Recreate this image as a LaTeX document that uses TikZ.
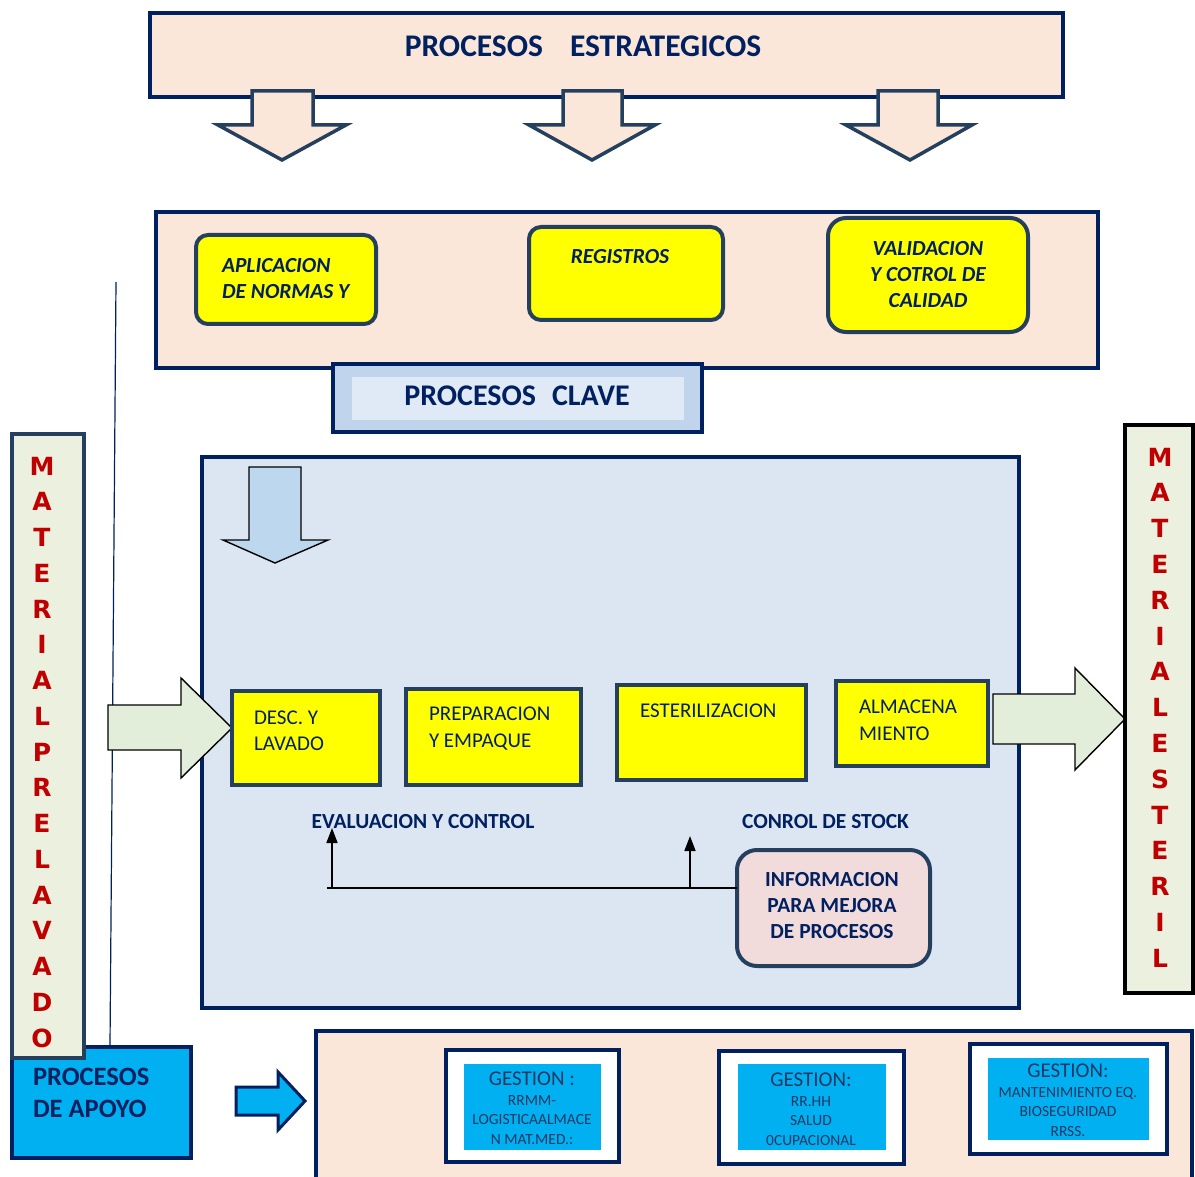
\documentclass[tikz,border=0pt]{standalone}
\usepackage{fontspec}
\setmainfont{Carlito}
\newfontfamily\vfont{DejaVu Sans}
\usetikzlibrary{arrows.meta}
\definecolor{peach}{HTML}{FBE7D9}
\definecolor{navy}{HTML}{002060}
\definecolor{slate}{HTML}{25405F}
\definecolor{ylw}{HTML}{FFFF00}
\definecolor{barg}{HTML}{EBF1DE}
\definecolor{arrg}{HTML}{E2EEDA}
\definecolor{panelb}{HTML}{DCE6F2}
\definecolor{clavo}{HTML}{C0D5EC}
\definecolor{clavi}{HTML}{DFEAF6}
\definecolor{darrow}{HTML}{BDD7EE}
\definecolor{pinkb}{HTML}{F2DCDB}
\definecolor{cyanb}{HTML}{00B0F0}
\definecolor{redt}{HTML}{C00000}
\definecolor{gtext}{HTML}{1F3864}
\begin{document}
\begin{tikzpicture}[x=1pt,y=-1pt,
  box/.style={anchor=north west,inner sep=0pt,outer sep=0pt},
  peachbox/.style={box,draw=navy,fill=peach,line width=3.5pt},
  ybox/.style={box,draw=slate,fill=ylw,line width=4.5pt},
  yrbox/.style={box,draw=slate,fill=ylw,line width=4pt,rounded corners=12pt},
  blockarrow/.style={line width=3.5pt,draw=slate,fill=peach,line join=miter},
  greenarrow/.style={line width=1.4pt,draw=black,fill=arrg,line join=miter},
  txt/.style={text=navy,inner sep=0pt,outer sep=0pt},
  itxt/.style={txt,font=\fontsize{21.5}{26}\selectfont\bfseries\itshape},
  ptxt/.style={txt,font=\fontsize{21}{26.5}\selectfont,align=left,anchor=west},
  vlet/.style={text=redt,font=\vfont\fontsize{25}{25}\selectfont\bfseries,inner sep=0pt},
  gout/.style={box,draw=navy,fill=white,line width=4.5pt},
  gin/.style={box,fill=cyanb},
  gtxt/.style={text=gtext,align=center,inner sep=0pt,font=\fontsize{15.5}{19.5}\selectfont}
]
\useasboundingbox (0,0) rectangle (1195,1177);

% ---------- strategic processes ----------
\node[peachbox,minimum width=913pt,minimum height=84pt] (strat) at (150,13) {};
\node[txt,font=\fontsize{31.5}{34}\selectfont\bfseries] (strattxt) at (583,46) {PROCESOS\hspace{27pt}ESTRATEGICOS};
\foreach \sl/\sr/\hl/\hr/\tx [count=\i] in {252/313/218/346/282,563/622/529/655/592,878/938/846/972/910}{
  \draw[blockarrow] (\sl,91) -- (\sr,91) -- (\sr,125) -- (\hr,125) -- (\tx,160) -- (\hl,125) -- (\sl,125) -- cycle;
}

% ---------- key processes panel ----------
\node[peachbox,minimum width=942pt,minimum height=156pt] (keyp) at (156,212) {};
\node[yrbox,minimum width=180pt,minimum height=89pt] (apl) at (196,235) {};
\node[itxt,align=left,anchor=west] (apltxt) at (222,278.5) {APLICACION\\DE NORMAS Y};
\node[yrbox,minimum width=194pt,minimum height=93pt] (reg) at (529,227) {};
\node[itxt] (regtxt) at (620,257) {REGISTROS};
\node[yrbox,rounded corners=18pt,minimum width=200pt,minimum height=114pt] (val) at (828,218) {};
\node[itxt,align=center] (valtxt) at (928,275) {VALIDACION\\Y COTROL DE\\CALIDAD};

\node[box,draw=navy,fill=clavo,line width=3.5pt,minimum width=369pt,minimum height=68pt] (clave) at (333,364) {};
\node[box,fill=clavi,minimum width=332pt,minimum height=43pt] (clavein) at (352,377) {};
\node[txt,font=\fontsize{30}{32}\selectfont\bfseries] (clavetxt) at (517,396) {PROCESOS\hspace{16pt}CLAVE};

% ---------- thin vertical line ----------
\coordinate (vl1) at (116,282);
\coordinate (vl2) at (110,1046);
\draw[navy,line width=1.2pt] (vl1) -- (vl2);

% ---------- main panel ----------
\node[box,draw=navy,fill=panelb,line width=3.5pt,minimum width=817pt,minimum height=551pt] (panel) at (202,457) {};
\draw[line width=1.4pt,draw=black,fill=darrow,line join=miter] (249,467) -- (301,467) -- (301,540) -- (328,540) -- (275,563) -- (223,540) -- (249,540) -- cycle;

% input / output arrows
\draw[greenarrow] (108,705) -- (181,705) -- (181,678) -- (232,728) -- (181,778) -- (181,750) -- (108,750) -- cycle;
\draw[greenarrow] (993,694) -- (1075,694) -- (1075,668) -- (1125,719) -- (1075,770) -- (1075,744) -- (993,744) -- cycle;

% process boxes
\node[ybox,minimum width=148pt,minimum height=94pt] (desc) at (232,691) {};
\node[ptxt] (desctxt) at (254,731) {DESC. Y\\LAVADO};
\node[ybox,minimum width=175pt,minimum height=96pt] (prep) at (406,689) {};
\node[ptxt] (preptxt) at (429,728.5) {PREPARACION\\Y EMPAQUE};
\node[ybox,minimum width=189pt,minimum height=95pt] (est) at (617,685) {};
\node[ptxt] (esttxt) at (640,711) {ESTERILIZACION};
\node[ybox,minimum width=152pt,minimum height=85pt] (alm) at (836,681) {};
\node[ptxt] (almtxt) at (859,720.5) {ALMACENA\\MIENTO};

% evaluation labels and connectors
\node[txt,font=\fontsize{21.5}{24}\selectfont\bfseries] (evaltxt) at (423,822) {EVALUACION Y CONTROL};
\node[txt,font=\fontsize{21.5}{24}\selectfont\bfseries] (stocktxt) at (825.5,822) {CONROL DE STOCK};
\node[box,draw=slate,fill=pinkb,line width=4pt,rounded corners=20pt,minimum width=193pt,minimum height=116pt] (info) at (737,850) {};
\node[txt,font=\fontsize{21.5}{26}\selectfont\bfseries,align=center] (infotxt) at (832,906) {INFORMACION\\PARA MEJORA\\DE PROCESOS};
\coordinate (jl) at (327,888);
\coordinate (je) at (332,888);
\coordinate (js) at (690,888);
\coordinate (te) at (332,828);
\coordinate (ts) at (690,836);
\draw[black,line width=2pt] (jl) -- (jl -| info.west);
\draw[black,line width=1.6pt,-{Triangle[width=11pt,length=15pt]}] (je) -- (te);
\draw[black,line width=1.6pt,-{Triangle[width=11pt,length=15pt]}] (js) -- (ts);

% ---------- output bar ----------
\node[box,draw=black,fill=barg,line width=4pt,minimum width=68pt,minimum height=568pt] (rbar) at (1125,425) {};
\foreach \c [count=\i] in {M,A,T,E,R,I,A,L,E,S,T,E,R,I,L}
  \node[vlet] (rl\i) at (1160,457+35.8*\i-35.8) {\c};

% ---------- support processes ----------
\node[peachbox,minimum width=876pt,minimum height=170pt] (supp) at (316,1031) {};
\node[box,draw=navy,fill=cyanb,line width=3.5pt,minimum width=179pt,minimum height=111pt] (apoyo) at (12,1047) {};
\node[txt,font=\fontsize{26.5}{32}\selectfont\bfseries,align=left,anchor=west] (apoyotxt) at (33,1093) {PROCESOS\\DE APOYO};
\draw[line width=3pt,draw=navy,fill=cyanb,line join=miter] (236,1087) -- (278,1087) -- (278,1072) -- (305,1101) -- (278,1130) -- (278,1115) -- (236,1115) -- cycle;

\node[gout,minimum width=173pt,minimum height=112pt] (g1) at (446,1050) {};
\node[gin,minimum width=137pt,minimum height=86pt] (g1in) at (464,1064) {};
\node[gtxt] (g1txt) at (532,1108) {{\fontsize{21}{21}\selectfont GESTION :}\\RRMM-\\LOGISTICAALMACE\\N MAT.MED.:};
\node[gout,minimum width=185pt,minimum height=113pt] (g2) at (719,1051) {};
\node[gin,minimum width=148pt,minimum height=86pt] (g2in) at (738,1064) {};
\node[gtxt] (g2txt) at (811,1109) {{\fontsize{21}{21}\selectfont GESTION:}\\RR.HH\\SALUD\\0CUPACIONAL};
\node[gout,minimum width=197pt,minimum height=110pt] (g3) at (970,1044) {};
\node[gin,minimum width=161pt,minimum height=82pt] (g3in) at (988,1058) {};
\node[gtxt] (g3txt) at (1068,1100) {{\fontsize{21}{21}\selectfont GESTION:}\\MANTENIMIENTO EQ.\\BIOSEGURIDAD\\RRSS.};

% ---------- input bar ----------
\node[box,draw=slate,fill=barg,line width=4pt,minimum width=72pt,minimum height=624pt] (lbar) at (12,434) {};
\foreach \c [count=\i] in {M,A,T,E,R,I,A,L,P,R,E,L,A,V,A,D,O}
  \node[vlet] (ll\i) at (42,466+35.75*\i-35.75) {\c};
\end{tikzpicture}
\end{document}
